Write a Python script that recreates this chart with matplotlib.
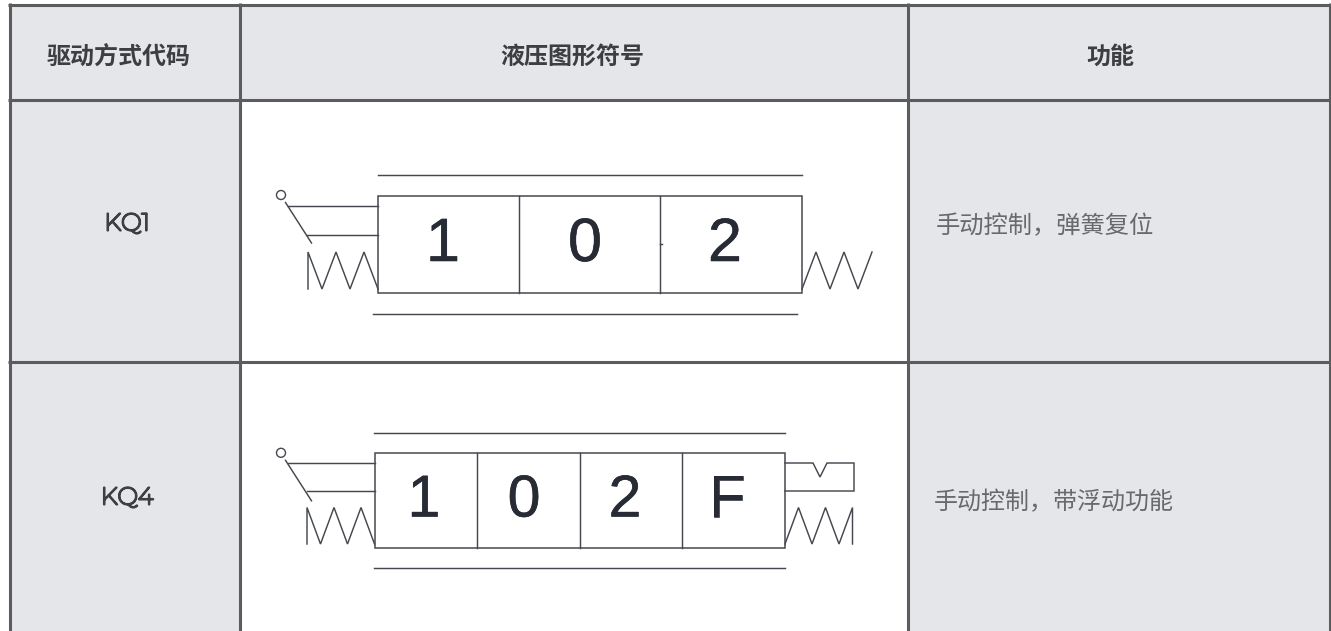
import matplotlib
matplotlib.use("Agg")
import matplotlib.pyplot as plt
from matplotlib.patches import Rectangle, Circle
import matplotlib.patheffects as pe

CJK = ['Noto Sans CJK SC', 'DejaVu Sans']
headers = ['驱动方式代码', '液压图形符号', '功能']
codes = ['KQ1', 'KQ4']
functions = ['手动控制，弹簧复位', '手动控制，带浮动功能']
cells_1 = ['1', '0', '2']
cells_2 = ['1', '0', '2', 'F']

W, H = 1331, 631
col_edges = [9.5, 239.5, 907.5, 1329.5]
row_edges = [4.7, 99.5, 361.5, 640]
fig = plt.figure(figsize=(W/100, H/100), dpi=100, facecolor='white')
ax = fig.add_axes([0, 0, 1, 1])
ax.set_xlim(0, W); ax.set_ylim(H, 0); ax.axis('off')

GRID = '#5b5c5e'; FILL = '#e5e6e9'; INK = '#272b33'; SYM = '#45484e'

ax.add_patch(Rectangle((col_edges[0], row_edges[0]), col_edges[3]-col_edges[0], row_edges[3]-row_edges[0], fc=FILL, ec='none', zorder=0))
ax.add_patch(Rectangle((col_edges[1], row_edges[1]), col_edges[2]-col_edges[1], row_edges[3]-row_edges[1], fc='white', ec='none', zorder=1))
for x in col_edges:
    ax.plot([x, x], [row_edges[0]-1.4, H], color=GRID, lw=2.2, zorder=5, solid_capstyle='butt')
for y in row_edges[:3]:
    ax.plot([col_edges[0]-1.5, W], [y, y], color=GRID, lw=2.2, zorder=5, solid_capstyle='butt')

for x, t in zip([118.5, 572, 1110], headers):
    ax.text(x, 57, t, family=CJK, fontsize=17.3, fontweight='bold', color='#3c3e42', ha='center', va='center')
for y, t in zip([224, 498], codes):
    ax.text(127, y, t, family=['Montserrat', 'Inter', 'DejaVu Sans'], fontsize=17.5, color='#3f3f40', ha='center', va='center',
            path_effects=[pe.withStroke(linewidth=1.5, foreground='#3f3f40')])
ax.text(936, 226, functions[0], family=CJK, fontsize=17.5, fontweight='light', color='#68696c', ha='left', va='center')
ax.text(934, 502, functions[1], family=CJK, fontsize=17.3, fontweight='light', color='#68696c', ha='left', va='center')

def line(xs, ys, lw=1.05, c=SYM):
    ax.plot(xs, ys, color=c, lw=lw, zorder=3, solid_joinstyle='miter')

def symbol(dividers, top, bot, rail_t, rail_b, rail_tx, rail_bx, labels, label_x, label_y, fs, oy, lv1, lv2, sy1, sy2, sp):
    x0, x1 = dividers[0], dividers[-1]
    ax.add_patch(Rectangle((x0, top), x1-x0, bot-top, fc='none', ec=SYM, lw=1.1, zorder=3))
    for x in dividers[1:-1]:
        line([x, x], [top, bot])
    line(rail_tx, [rail_t]*2); line(rail_bx, [rail_b]*2)
    for x, t in zip(label_x, labels):
        ax.text(x, label_y, t, family='Liberation Sans', fontsize=fs, color=INK, ha='center', va='center',
                path_effects=[pe.withStroke(linewidth=0.4, foreground=INK)])
    ox = 281
    ax.add_patch(Circle((ox, oy), 4.5, fc='white', ec=SYM, lw=1.0, zorder=4))
    line([ox+4.5, ox+30.5], [oy+7.5, oy+48])
    line([ox+7, x0], [lv1]*2); line([ox+25.7, x0], [lv2]*2)
    xs = [x0-5*sp+sp*i for i in range(6)]
    line([xs[0]]+xs, [sy2, sy1, sy2, sy1, sy2, sy1, sy2])

symbol([378, 519, 660.3, 802], 195.8, 293, 175, 314, [377.5, 802], [372.5, 797],
       cells_1, [443, 585, 725], 245.5, 44, 195, 205.5, 235, 252, 289, 14)
line([802, 816, 830, 844, 858, 872], [289, 252, 289, 252, 289, 252])
line([660, 662], [244, 244])

symbol([374.5, 477, 579.5, 682, 785], 453.3, 547.5, 433, 568, [374, 785], [374, 785],
       cells_2, [424, 524, 625, 727], 501, 42.5, 452.8, 463, 491, 507.5, 544, 13.5)
line([785, 813, 820, 827, 854, 854, 785], [463, 463, 477, 463, 463, 491, 491])
line([785, 798.5, 812, 825.5, 839, 852.5, 852.5], [544, 507.5, 544, 507.5, 544, 507.5, 544])

fig.savefig('out.png', dpi=100, facecolor='white')
